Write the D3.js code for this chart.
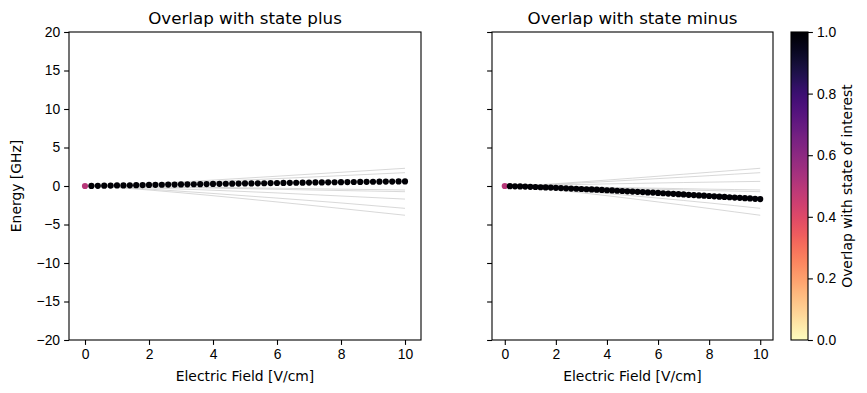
<!DOCTYPE html>
<html>
<head>
<meta charset="utf-8">
<script src="https://d3js.org/d3.v7.min.js"></script>
<style>
  body { margin: 0; background: #fff; }
  svg { font-family: "DejaVu Sans", sans-serif; }
  .tick text { font-size: 13.9px; fill: #000; }
  .tick line, .domain { stroke: #000; stroke-width: 1.1; }
</style>
</head>
<body>
<svg id="chart" width="867" height="393"></svg>
<script>
// electric field samples for the scatter (step 0.2) and for the grey levels (step 1)
var fieldDots = d3.range(51).map(i => +(i * 0.2).toFixed(1));
var fieldLines = [0, 1, 2, 3, 4, 5, 6, 7, 8, 9, 10];

// energies of the state tracked in each panel [GHz]
var plusEnergy = [0, 0.01, 0.02, 0.04, 0.05, 0.07, 0.08, 0.09, 0.11, 0.12,
  0.14, 0.15, 0.16, 0.18, 0.19, 0.20, 0.22, 0.23, 0.24, 0.25,
  0.27, 0.28, 0.29, 0.30, 0.32, 0.33, 0.34, 0.35, 0.36, 0.38,
  0.39, 0.40, 0.41, 0.42, 0.43, 0.45, 0.46, 0.47, 0.48, 0.49,
  0.50, 0.51, 0.52, 0.53, 0.54, 0.55, 0.56, 0.57, 0.58, 0.59, 0.60];
var minusEnergy = [0, -0.02, -0.04, -0.06, -0.08, -0.11, -0.13, -0.16, -0.18, -0.21,
  -0.24, -0.27, -0.30, -0.33, -0.36, -0.39, -0.42, -0.45, -0.48, -0.51,
  -0.55, -0.58, -0.62, -0.65, -0.69, -0.72, -0.76, -0.79, -0.83, -0.86,
  -0.90, -0.94, -0.98, -1.02, -1.06, -1.10, -1.14, -1.18, -1.22, -1.26,
  -1.30, -1.34, -1.38, -1.42, -1.46, -1.50, -1.54, -1.58, -1.62, -1.66, -1.70];

// overlap with state of interest (first point is the mixed zero-field state)
var plusOverlap = [0.5].concat(d3.range(50).map(() => 0.99));
var minusOverlap = [0.5].concat(d3.range(50).map(() => 0.99));

// all eigen-energies vs field (grey lines)
var levels = [
  [0, 0.10, 0.30, 0.53, 0.77, 1.02, 1.27, 1.53, 1.78, 2.04, 2.30],
  [0, 0.08, 0.22, 0.40, 0.58, 0.77, 0.96, 1.15, 1.34, 1.54, 1.73],
  [0, 0.07, 0.14, 0.20, 0.27, 0.33, 0.39, 0.45, 0.50, 0.55, 0.60],
  [0, -0.03, -0.08, -0.13, -0.18, -0.24, -0.29, -0.35, -0.41, -0.46, -0.52],
  [0, -0.05, -0.12, -0.19, -0.27, -0.35, -0.43, -0.51, -0.59, -0.66, -0.74],
  [0, -0.10, -0.24, -0.39, -0.55, -0.72, -0.90, -1.10, -1.30, -1.50, -1.70],
  [0, -0.15, -0.40, -0.68, -0.97, -1.27, -1.57, -1.88, -2.20, -2.55, -2.90],
  [0, -0.20, -0.52, -0.88, -1.26, -1.66, -2.07, -2.49, -2.92, -3.36, -3.80]
];

var xTicks = [0, 2, 4, 6, 8, 10];
var yTicks = [-20, -15, -10, -5, 0, 5, 10, 15, 20];
var cTicks = [0, 0.2, 0.4, 0.6, 0.8, 1.0];

var panels = [
  {title: "Overlap with state plus", left: 69, right: 421, energy: plusEnergy, overlap: plusOverlap, labels: true},
  {title: "Overlap with state minus", left: 492, right: 773, energy: minusEnergy, overlap: minusOverlap, labels: false}
];

var axTop = 32, axBottom = 340;
var svg = d3.select("#chart");
var color = t => d3.interpolateMagma(1 - t);
var y = d3.scaleLinear([-20, 20], [axBottom, axTop]);

panels.forEach(p => {
  var x = d3.scaleLinear([-0.5, 10.5], [p.left, p.right]);
  var g = svg.append("g");

  var line = d3.line().x((d, i) => x(fieldLines[i])).y(d => y(d));
  g.selectAll("path.level")
    .data(levels)
    .enter().append("path")
    .attr("class", "level")
    .attr("d", line)
    .attr("fill", "none")
    .attr("stroke", "#bdbdbd")
    .attr("stroke-width", 0.6);

  g.selectAll("circle")
    .data(p.energy)
    .enter().append("circle")
    .attr("cx", (d, i) => x(fieldDots[i]))
    .attr("cy", d => y(d))
    .attr("r", 3.1)
    .attr("fill", (d, i) => color(p.overlap[i]));

  g.append("rect")
    .attr("x", p.left).attr("y", axTop)
    .attr("width", p.right - p.left).attr("height", axBottom - axTop)
    .attr("fill", "none").attr("stroke", "#000").attr("stroke-width", 1.1);

  g.append("g")
    .attr("transform", "translate(0," + axBottom + ")")
    .call(d3.axisBottom(x).tickValues(xTicks).tickFormat(d3.format("d")).tickSize(4.9).tickPadding(4))
    .call(a => a.select(".domain").remove());

  var ya = d3.axisLeft(y).tickValues(yTicks).tickSize(4.9).tickPadding(4);
  if (!p.labels) ya.tickFormat("");
  g.append("g")
    .attr("transform", "translate(" + p.left + ",0)")
    .call(ya)
    .call(a => a.select(".domain").remove());

  g.append("text")
    .attr("x", (p.left + p.right) / 2).attr("y", 24)
    .attr("text-anchor", "middle")
    .style("font-size", "16.7px")
    .text(p.title);

  g.append("text")
    .attr("x", (p.left + p.right) / 2).attr("y", 381)
    .attr("text-anchor", "middle")
    .style("font-size", "13.9px")
    .text("Electric Field [V/cm]");
});

svg.append("text")
  .attr("transform", "translate(21," + ((axTop + axBottom) / 2) + ") rotate(-90)")
  .attr("text-anchor", "middle")
  .style("font-size", "13.9px")
  .text("Energy [GHz]");

// colour bar
var cbLeft = 791, cbWidth = 17;
var c = d3.scaleLinear([0, 1], [axBottom, axTop]);
var grad = svg.append("defs").append("linearGradient")
  .attr("id", "cbar").attr("x1", 0).attr("y1", 1).attr("x2", 0).attr("y2", 0);
grad.selectAll("stop")
  .data(d3.range(0, 1.0001, 0.02))
  .enter().append("stop")
  .attr("offset", d => d)
  .attr("stop-color", d => color(d));

svg.append("rect")
  .attr("x", cbLeft).attr("y", axTop)
  .attr("width", cbWidth).attr("height", axBottom - axTop)
  .attr("fill", "url(#cbar)")
  .attr("stroke", "#000").attr("stroke-width", 1.1);

svg.append("g")
  .attr("transform", "translate(" + (cbLeft + cbWidth) + ",0)")
  .call(d3.axisRight(c).tickValues(cTicks).tickFormat(d3.format(".1f")).tickSize(4.9).tickPadding(4))
  .call(a => a.select(".domain").remove());

svg.append("text")
  .attr("transform", "translate(852," + ((axTop + axBottom) / 2) + ") rotate(-90)")
  .attr("text-anchor", "middle")
  .style("font-size", "13.9px")
  .text("Overlap with state of interest");
</script>
</body>
</html>
